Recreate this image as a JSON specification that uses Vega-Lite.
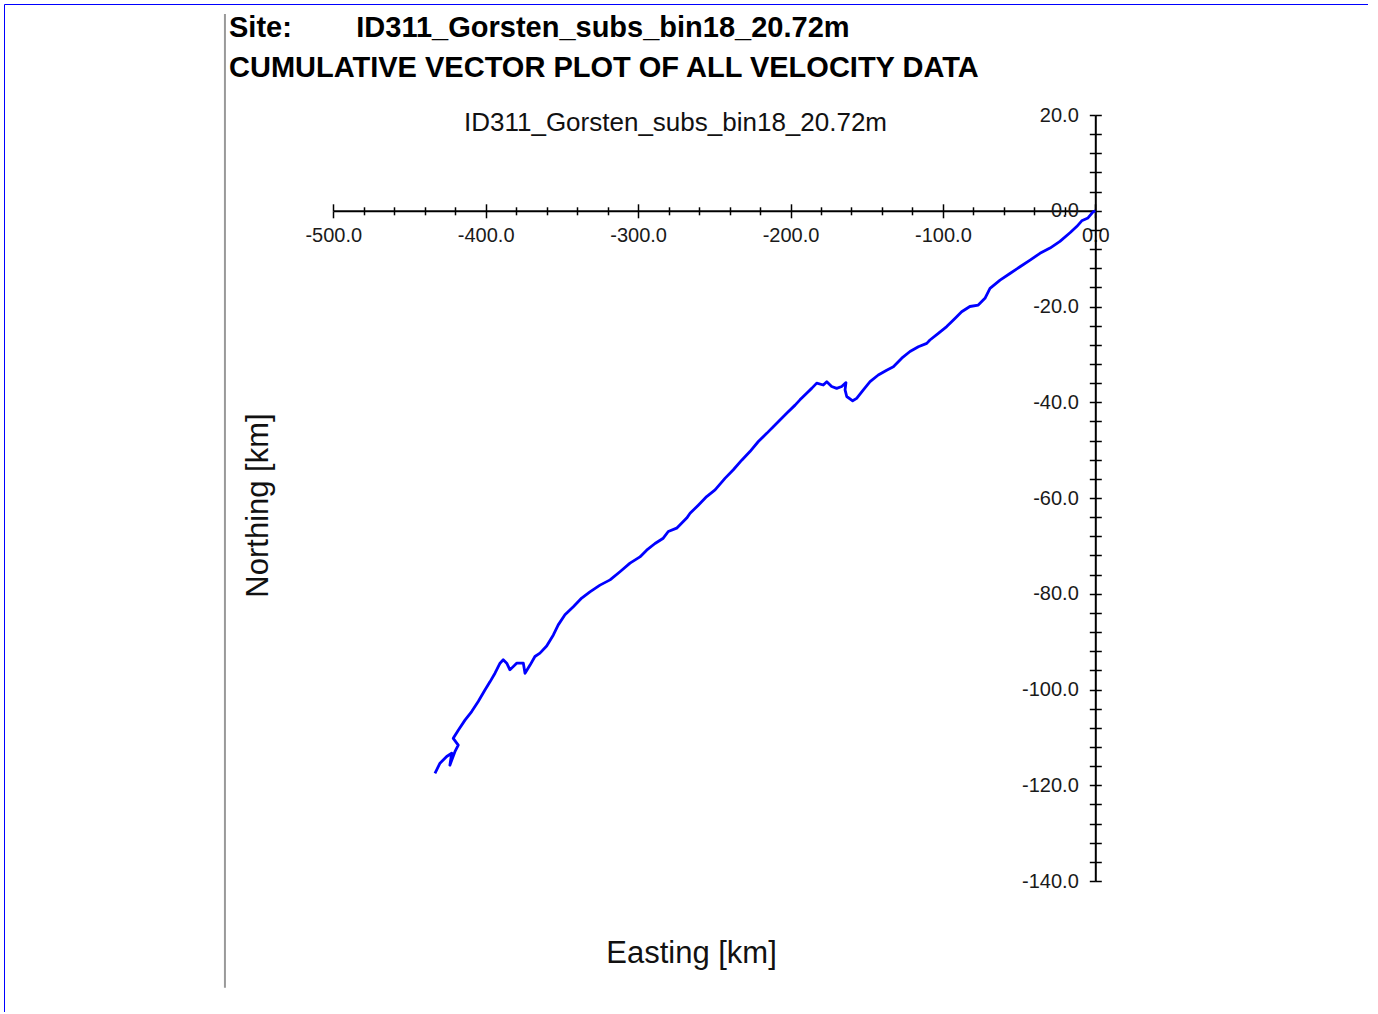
{
  "$schema": "https://vega.github.io/schema/vega-lite/v6.json",
  "width": 1364,
  "height": 1008,
  "autosize": {"type": "none"},
  "padding": {"left": 4, "top": 4, "right": 0, "bottom": 0},
  "background": "white",
  "config": {
    "view": {"stroke": "#0000ff", "strokeWidth": 1},
    "font": "Liberation Sans",
    "axis": {"grid": false}
  },
  "title": {
    "text": ["Site:\u00a0\u00a0\u00a0\u00a0\u00a0\u00a0\u00a0\u00a0ID311_Gorsten_subs_bin18_20.72m", "CUMULATIVE VECTOR PLOT OF ALL VELOCITY DATA"],
    "anchor": "start",
    "frame": "group",
    "dx": 225,
    "offset": -79,
    "font": "Liberation Sans",
    "fontSize": 29,
    "fontWeight": "bold",
    "lineHeight": 40,
    "color": "#000000"
  },
  "datasets": {
    "track": [
      {"i":0,"e":0,"n":0},{"i":1,"e":-1.3,"n":-0.2},{"i":2,"e":-4.8,"n":-1.5},{"i":3,"e":-8.9,"n":-2.1},{"i":4,"e":-12.2,"n":-3.3},
      {"i":5,"e":-16.6,"n":-4.6},{"i":6,"e":-23.2,"n":-6.4},{"i":7,"e":-29.7,"n":-7.8},{"i":8,"e":-36.3,"n":-8.9},{"i":9,"e":-42.8,"n":-10.3},
      {"i":10,"e":-49.4,"n":-11.7},{"i":11,"e":-56.0,"n":-13.1},{"i":12,"e":-62.5,"n":-14.5},{"i":13,"e":-69.1,"n":-16.2},{"i":14,"e":-72.4,"n":-18.3},
      {"i":15,"e":-76.8,"n":-19.7},{"i":16,"e":-82.3,"n":-20.0},{"i":17,"e":-87.7,"n":-21.1},{"i":18,"e":-92.1,"n":-22.5},{"i":19,"e":-97.5,"n":-24.2},
      {"i":20,"e":-103.0,"n":-25.6},{"i":21,"e":-108.5,"n":-27.0},{"i":22,"e":-110.6,"n":-27.7},{"i":23,"e":-116.1,"n":-28.4},{"i":24,"e":-121.6,"n":-29.4},
      {"i":25,"e":-127.0,"n":-30.8},{"i":26,"e":-132.5,"n":-32.6},{"i":27,"e":-136.9,"n":-33.3},{"i":28,"e":-142.4,"n":-34.3},{"i":29,"e":-147.8,"n":-35.7},
      {"i":30,"e":-152.2,"n":-37.4},{"i":31,"e":-156.6,"n":-39.2},{"i":32,"e":-159.2,"n":-39.7},{"i":33,"e":-163.1,"n":-38.8},{"i":34,"e":-164.2,"n":-37.4},
      {"i":35,"e":-163.6,"n":-35.9},{"i":36,"e":-166.4,"n":-36.7},{"i":37,"e":-169.7,"n":-37.1},{"i":38,"e":-173.0,"n":-36.7},{"i":39,"e":-176.2,"n":-35.7},
      {"i":40,"e":-178.5,"n":-36.4},{"i":41,"e":-182.8,"n":-36.0},{"i":42,"e":-186.1,"n":-37.1},{"i":43,"e":-189.4,"n":-38.1},{"i":44,"e":-193.8,"n":-39.5},
      {"i":45,"e":-197.0,"n":-40.6},{"i":46,"e":-202.5,"n":-42.3},{"i":47,"e":-206.9,"n":-43.7},{"i":48,"e":-211.3,"n":-45.1},{"i":49,"e":-215.6,"n":-46.5},
      {"i":50,"e":-221.1,"n":-48.2},{"i":51,"e":-226.6,"n":-50.3},{"i":52,"e":-232.0,"n":-52.1},{"i":53,"e":-237.5,"n":-54.1},{"i":54,"e":-243.0,"n":-55.9},
      {"i":55,"e":-249.5,"n":-58.3},{"i":56,"e":-255.0,"n":-59.7},{"i":57,"e":-260.5,"n":-61.5},{"i":58,"e":-265.9,"n":-63.2},{"i":59,"e":-268.1,"n":-64.2},
      {"i":60,"e":-274.7,"n":-66.3},{"i":61,"e":-280.2,"n":-67.0},{"i":62,"e":-283.5,"n":-68.4},{"i":63,"e":-288.9,"n":-69.5},{"i":64,"e":-294.4,"n":-70.9},
      {"i":65,"e":-298.8,"n":-72.3},{"i":66,"e":-305.3,"n":-73.6},{"i":67,"e":-311.9,"n":-75.4},{"i":68,"e":-318.4,"n":-77.1},{"i":69,"e":-325.0,"n":-78.2},
      {"i":70,"e":-331.6,"n":-79.6},{"i":71,"e":-337.0,"n":-80.9},{"i":72,"e":-342.5,"n":-82.7},{"i":73,"e":-348.0,"n":-84.4},{"i":74,"e":-352.4,"n":-86.5},
      {"i":75,"e":-355.6,"n":-88.6},{"i":76,"e":-360.0,"n":-90.9},{"i":77,"e":-364.4,"n":-92.4},{"i":78,"e":-367.7,"n":-93.1},{"i":79,"e":-370.9,"n":-94.9},
      {"i":80,"e":-374.2,"n":-96.6},{"i":81,"e":-375.3,"n":-94.5},{"i":82,"e":-379.7,"n":-94.5},{"i":83,"e":-384.1,"n":-95.9},{"i":84,"e":-386.2,"n":-94.5},
      {"i":85,"e":-388.5,"n":-93.8},{"i":86,"e":-390.6,"n":-94.5},{"i":87,"e":-393.9,"n":-96.6},{"i":88,"e":-397.2,"n":-98.4},{"i":89,"e":-400.5,"n":-100.1},
      {"i":90,"e":-404.9,"n":-102.5},{"i":91,"e":-409.2,"n":-104.6},{"i":92,"e":-413.6,"n":-106.4},{"i":93,"e":-418.0,"n":-108.5},{"i":94,"e":-421.3,"n":-110.2},
      {"i":95,"e":-418.0,"n":-111.6},{"i":96,"e":-420.2,"n":-113.0},{"i":97,"e":-423.5,"n":-115.8},{"i":98,"e":-422.3,"n":-113.3},{"i":99,"e":-425.6,"n":-114.0},
      {"i":100,"e":-430.0,"n":-115.4},{"i":101,"e":-433.3,"n":-117.5}
    ],
    "frame": [{"part": "divider"}]
  },
  "layer": [
    {
      "data": {"name": "track"},
      "mark": {"type": "line", "color": "#0000ff", "strokeWidth": 2.8, "strokeJoin": "round"},
      "encoding": {
        "x": {
          "field": "e", "type": "quantitative",
          "scale": {"domain": [-500, 0], "range": [329.3, 1091.3], "nice": false, "zero": false},
          "axis": {
            "orient": "bottom", "offset": -801.2,
            "values": [-500,-480,-460,-440,-420,-400,-380,-360,-340,-320,-300,-280,-260,-240,-220,-200,-180,-160,-140,-120,-100,-80,-60,-40,-20,0],
            "labelExpr": "datum.value % 100 === 0 ? replace(format(datum.value, '.1f'), '\u2212', '-') : ''",
            "labelOverlap": false, "labelFlush": false, "labelBound": false,
            "labelFontSize": 20, "labelColor": "#1a1a1a", "labelPadding": 8,
            "domainColor": "#000000", "domainWidth": 2,
            "tickColor": "#000000", "tickWidth": 1.5,
            "tickSize": {"condition": {"test": "datum.value % 100 === 0", "value": 7}, "value": 4},
            "title": "Easting [km]", "titleFontSize": 31, "titleFontWeight": "normal", "titleColor": "#111111",
            "titleX": 687, "titleY": 743, "titleBaseline": "middle", "titleAlign": "center"
          }
        },
        "y": {
          "field": "n", "type": "quantitative",
          "scale": {"domain": [-140, 20], "range": [877, 111], "nice": false, "zero": false},
          "axis": {
            "orient": "left", "offset": -1091.3,
            "values": [-140,-136,-132,-128,-124,-120,-116,-112,-108,-104,-100,-96,-92,-88,-84,-80,-76,-72,-68,-64,-60,-56,-52,-48,-44,-40,-36,-32,-28,-24,-20,-16,-12,-8,-4,0,4,8,12,16,20],
            "labelExpr": "datum.value % 20 === 0 ? replace(format(datum.value, '.1f'), '\u2212', '-') : ''",
            "labelOverlap": false, "labelFlush": false, "labelBound": false,
            "labelFontSize": 20, "labelColor": "#1a1a1a", "labelPadding": 11,
            "domainColor": "#000000", "domainWidth": 2,
            "tickColor": "#000000", "tickWidth": 1.5, "tickSize": 6,
            "title": "Northing [km]", "titleFontSize": 31, "titleFontWeight": "normal", "titleColor": "#111111",
            "titleX": -837.3, "titleY": 501, "titleBaseline": "middle", "titleAlign": "center", "titleAngle": -90
          }
        },
        "order": {"field": "i", "type": "quantitative"}
      }
    },
    {
      "data": {"name": "frame"},
      "mark": {"type": "rule", "color": "#999999", "strokeWidth": 2},
      "encoding": {
        "x": {
          "datum": -571.1, "type": "quantitative",
          "axis": {
            "orient": "top", "offset": -206.8,
            "values": [-500,-480,-460,-440,-420,-400,-380,-360,-340,-320,-300,-280,-260,-240,-220,-200,-180,-160,-140,-120,-100,-80,-60,-40,-20,0],
            "labels": false, "domain": false,
            "tickColor": "#000000", "tickWidth": 1.5,
            "tickSize": {"condition": {"test": "datum.value % 100 === 0", "value": 7}, "value": 4},
            "title": "ID311_Gorsten_subs_bin18_20.72m", "titleFontSize": 26, "titleFontWeight": "normal", "titleColor": "#111111",
            "titleX": 671, "titleY": -88.8, "titleBaseline": "middle", "titleAlign": "center"
          }
        },
        "y": {
          "datum": 41.1, "type": "quantitative",
          "axis": {
            "orient": "right", "offset": -272.7,
            "values": [-140,-136,-132,-128,-124,-120,-116,-112,-108,-104,-100,-96,-92,-88,-84,-80,-76,-72,-68,-64,-60,-56,-52,-48,-44,-40,-36,-32,-28,-24,-20,-16,-12,-8,-4,0,4,8,12,16,20],
            "labels": false, "domain": false, "title": null,
            "tickColor": "#000000", "tickWidth": 1.5, "tickSize": 6
          }
        },
        "y2": {"datum": -162.3}
      }
    }
  ],
  "resolve": {"axis": {"x": "independent", "y": "independent"}}
}
